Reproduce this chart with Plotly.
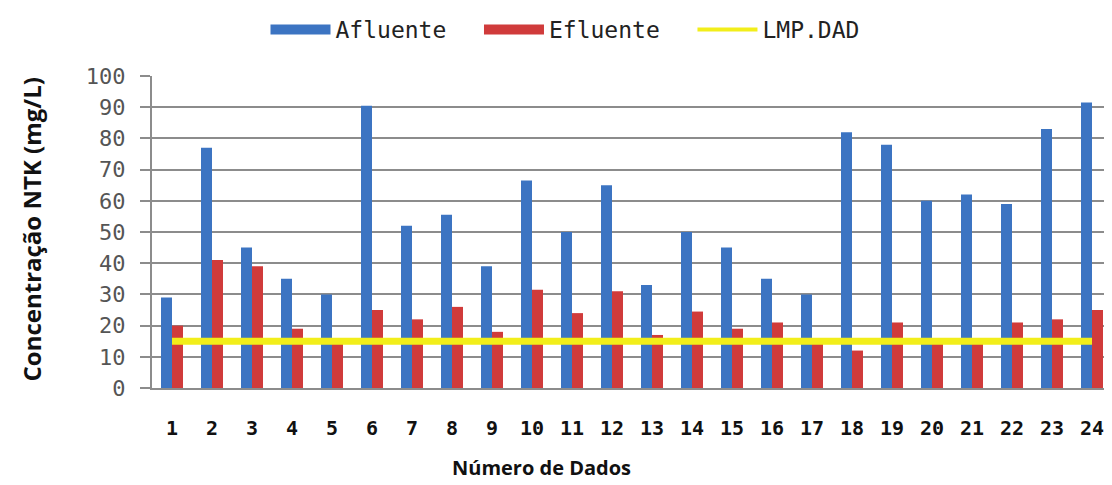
import plotly.graph_objects as go

categories = [str(i) for i in range(1, 25)]
afluente = [29, 77, 45, 35, 30, 90.5, 52, 55.5, 39, 66.5, 50, 65, 33, 50, 45, 35, 30, 82, 78, 60, 62, 59, 83, 91.5]
efluente = [20, 41, 39, 19, 14.5, 25, 22, 26, 18, 31.5, 24, 31, 17, 24.5, 19, 21, 14.5, 12, 21, 14.5, 14.5, 21, 22, 25]
lmp_dad = [15, 15, 15, 15, 15, 15, 15, 15, 15, 15, 15, 15, 15, 15, 15, 15, 15, 15, 15, 15, 15, 15, 15, 15]
y_ticks = [0, 10, 20, 30, 40, 50, 60, 70, 80, 90, 100]

BLUE, RED, YELLOW = "#3C74C2", "#D03B3B", "#F2EE1A"

# page has an 8px body margin; work in screenshot pixels and shift
OFF = 8
W, H = 1112 - OFF, 485 - OFF
plot_left, plot_right, plot_top, plot_bottom = 152, 1112, 75, 388
L = plot_left - OFF
R = 0
T = plot_top - OFF
B = H - (plot_bottom - OFF)
pw, ph = W - L - R, H - T - B


def px(xs):
    return (xs - plot_left) / pw


def py(ys):
    return (plot_bottom - ys) / ph


NB = "\u00a0"

fig = go.Figure()
fig.add_trace(go.Bar(x=categories, y=afluente, name="Afluente", marker_color=BLUE,
                     marker_line_width=0, showlegend=False))
fig.add_trace(go.Bar(x=categories, y=efluente, name="Efluente", marker_color=RED,
                     marker_line_width=0, showlegend=False))
fig.add_trace(go.Scatter(x=categories, y=lmp_dad, name="LMP.DAD", mode="lines",
                         line=dict(color=YELLOW, width=7), showlegend=False))
# legend entries (wide boxes like the original)
fig.add_trace(go.Scatter(x=[None], y=[None], name="Afluente" + NB * 2, mode="lines",
                         line=dict(color=BLUE, width=12)))
fig.add_trace(go.Scatter(x=[None], y=[None], name="Efluente" + NB * 2, mode="lines",
                         line=dict(color=RED, width=12)))
fig.add_trace(go.Scatter(x=[None], y=[None], name="LMP.DAD", mode="lines",
                         line=dict(color=YELLOW, width=4)))

fig.update_layout(
    width=W, height=H,
    margin=dict(l=L, r=R, t=T, b=B),
    paper_bgcolor="white", plot_bgcolor="white",
    barmode="group", bargap=0.45, bargroupgap=0,
    showlegend=True,
    legend=dict(orientation="h", x=px(565), xanchor="center",
                y=py(28), yanchor="middle",
                font=dict(family="DejaVu Sans Mono", size=23, color="#222"),
                itemwidth=60, traceorder="normal"),
    xaxis=dict(type="category", showgrid=False, showline=True, linecolor="#8c8c8c", linewidth=2,
               ticks="", ticklabelstandoff=21, range=[-0.5, 23.5],
               tickfont=dict(family="DejaVu Sans Mono", size=20, color="#111", weight="bold")),
    yaxis=dict(range=[0, 100], tickvals=y_ticks, showgrid=True, gridcolor="#8c8c8c", gridwidth=2,
               showline=True, linecolor="#8c8c8c", linewidth=2, ticks="outside", ticklen=10,
               tickcolor="#8c8c8c", tickwidth=2, ticklabelstandoff=10,
               tickfont=dict(family="DejaVu Sans Mono", size=22, color="#555"), zeroline=False),
    annotations=[
        dict(text="<b>Concentração NTK (mg/L)</b>", textangle=-90, xref="paper", yref="paper",
             x=px(32), y=py(229), xanchor="center", yanchor="middle", showarrow=False,
             font=dict(family="Open Sans", size=24, color="#111")),
        dict(text="<b>Número de Dados</b>", xref="paper", yref="paper",
             x=px(541), y=py(468), xanchor="center", yanchor="middle", showarrow=False,
             font=dict(family="Open Sans", size=20, color="#111")),
    ],
)

fig.write_html("out.html")
